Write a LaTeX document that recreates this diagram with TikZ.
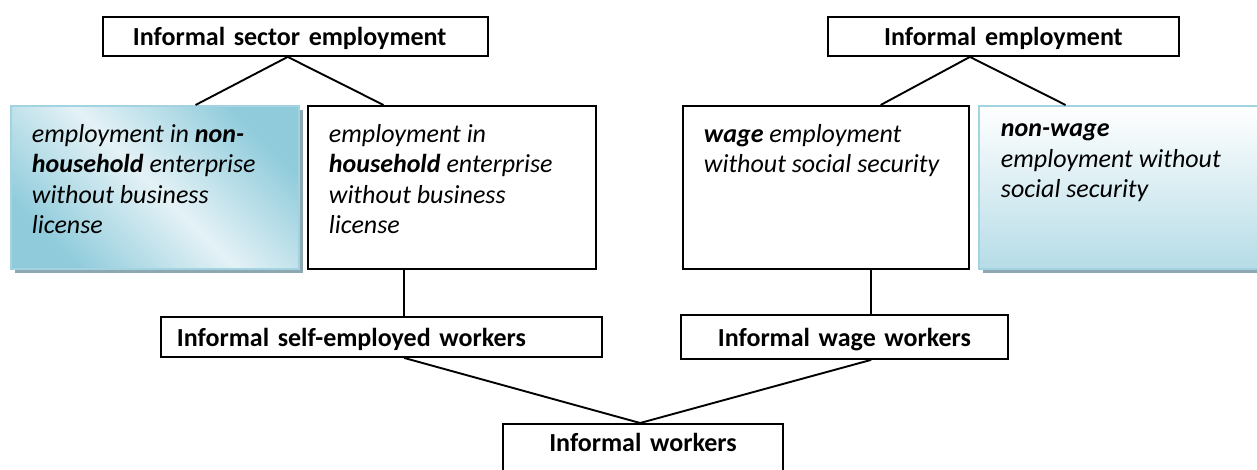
\documentclass[tikz,border=0pt]{standalone}
\usepackage{fontspec}
\setmainfont{Carlito}
\usetikzlibrary{calc,shadows}
\definecolor{aquaD}{HTML}{8FCBDB}
\definecolor{aquaL}{HTML}{E4F2F6}
\definecolor{aquaB}{HTML}{B6DCE7}
\definecolor{rim}{HTML}{A3D3E0}
\definecolor{shade}{HTML}{8EA8B2}

\begin{document}
\begin{tikzpicture}[
    x=1pt, y=-1pt,
    font=\fontsize{26}{30.5}\selectfont,
    label/.style={rectangle, draw=black, line width=1.9pt, anchor=north west,
                  inner sep=0pt, text height=24pt, text depth=5.5pt,
                  font=\fontsize{26}{30.5}\selectfont\bfseries},
    cat/.style={rectangle, draw=black, line width=1.9pt, anchor=north west,
                inner xsep=21pt, inner ysep=18pt, font=\fontsize{26}{30.5}\selectfont\itshape},
    tint/.style={cat, draw=rim,
                 general shadow={fill=shade, shadow xshift=4pt, shadow yshift=-4pt}},
    tie/.style={line width=1.9pt, color=black}
  ]

% ---------------- canvas ----------------
\path[use as bounding box, fill=white] (0,0) rectangle (1257,470);

% ---------------- top headings ----------------
\node[label, inner xsep=30pt, text width=325pt, align=left, minimum height=39pt] (sector) at (102,16) {Informal sector employment};
\node[label, text width=351pt, align=center, minimum height=39pt] (infemp) at (827,16) {Informal employment};

% ---------------- employment categories ----------------
\def\ch{127pt}      % text area height inside a category box
\node[tint, top color=aquaD, bottom color=aquaD, middle color=aquaL, shading angle=-45] (nonhh) at (10,105)
  {\parbox[c][\ch][t]{246pt}{employment in \textbf{non-}\\ \textbf{household} enterprise\\ without business\\ license}};
\node[cat] (hh) at (307,105)
  {\parbox[c][\ch][t]{246pt}{employment in\\ \textbf{household} enterprise\\ without business\\ license}};
\node[cat] (wage) at (682,105)
  {\parbox[c][\ch][t]{244pt}{\textbf{wage} employment\\ without social security}};
\node[tint, inner xsep=22pt, top color=white, bottom color=aquaB] (nonwage) at (978,105)
  {\parbox[c][\ch][t]{246pt}{\textbf{non-wage}\\ employment without\\ social security}};

% ---------------- worker groups ----------------
\node[label, inner xsep=16pt, text width=409pt, align=left, minimum height=40pt] (selfemp) at (160,316) {Informal self-employed workers};
\node[label, text width=327pt, align=center, minimum height=44pt] (wagew) at (680,314) {Informal wage workers};
\node[label, text width=280pt, align=center, minimum height=50pt, text height=19pt, text depth=13pt] (infw) at (502,423) {Informal workers};

% ---------------- branches heading -> category ----------------
\foreach \p/\pf/\c/\cf in {sector/0.48/nonhh/0.64, sector/0.48/hh/0.264,
                           infemp/0.405/wage/0.69, infemp/0.405/nonwage/0.30}
  \draw[tie] ($(\p.south west)!\pf!(\p.south east)$) -- ($(\c.north west)!\cf!(\c.north east)$);

% ---------------- stems category -> group ----------------
\coordinate (hhfoot) at ($(hh.south west)!0.335!(hh.south east)$);
\coordinate (wagefoot) at ($(wage.south west)!0.657!(wage.south east)$);
\draw[tie] (hhfoot) -- (hhfoot |- selfemp.north);
\draw[tie] (wagefoot) -- (wagefoot |- wagew.north);

% ---------------- groups -> informal workers ----------------
\foreach \g/\gf in {selfemp/0.551, wagew/0.581}
  \draw[tie] ($(\g.south west)!\gf!(\g.south east)$) -- ($(infw.north west)!0.49!(infw.north east)$);

\end{tikzpicture}
\end{document}
